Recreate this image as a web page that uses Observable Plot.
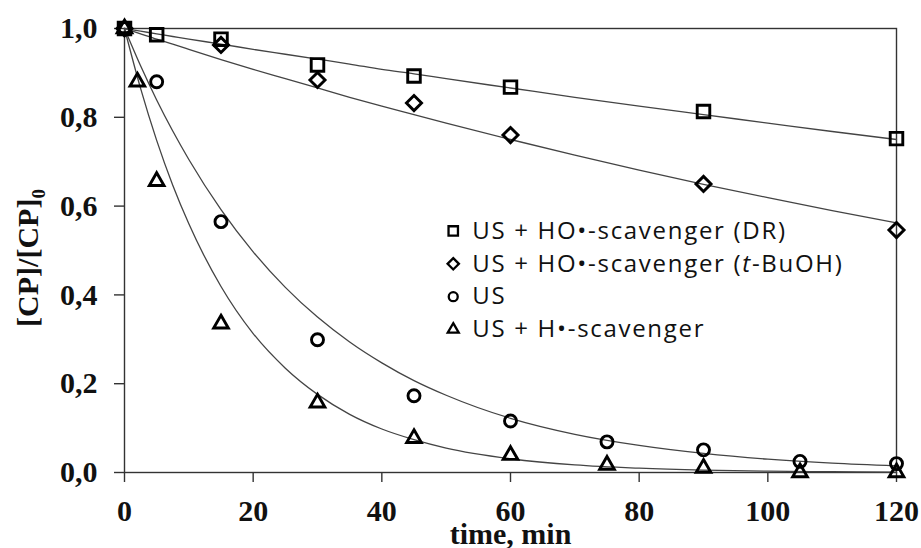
<!DOCTYPE html>
<html>
<head>
<meta charset="utf-8">
<script src="https://cdn.jsdelivr.net/npm/d3@7"></script>
<script src="https://cdn.jsdelivr.net/npm/@observablehq/plot@0.6"></script>
<style>
  html, body { margin: 0; padding: 0; background: #fff; }
  #chart { width: 921px; height: 548px; }
</style>
</head>
<body>
<div id="chart"></div>
<script>
// ---- Series names (legend labels) ----
const seriesNames = [
  "US + HO•-scavenger (DR)",
  "US + HO•-scavenger (t-BuOH)",
  "US",
  "US + H•-scavenger"
];
const seriesSymbols = ["square2", "diamond2", "circle", "triangle2"];

// ---- Measured points ----
const timeDR = [0, 5, 15, 30, 45, 60, 90, 120];
const valDR  = [1.0, 0.986, 0.976, 0.918, 0.893, 0.868, 0.813, 0.752];

const timeBuOH = [0, 15, 30, 45, 60, 90, 120];
const valBuOH  = [1.0, 0.963, 0.884, 0.832, 0.760, 0.650, 0.546];

const timeUS = [0, 5, 15, 30, 45, 60, 75, 90, 105, 120];
const valUS  = [1.0, 0.880, 0.565, 0.299, 0.173, 0.116, 0.069, 0.051, 0.025, 0.020];

const timeH = [0, 2, 5, 15, 30, 45, 60, 75, 90, 105, 120];
const valH  = [1.0, 0.880, 0.656, 0.335, 0.157, 0.077, 0.039, 0.017, 0.010, 0.0, 0.0];

// ---- Fitted curves ----
const timeFit = [0, 2.5, 5, 7.5, 10, 15, 20, 25, 30, 35, 40, 45, 50, 60, 70, 80, 90, 100, 110, 120];
const fitDR   = [1, 0.994, 0.988, 0.982, 0.976, 0.965, 0.953, 0.942, 0.931, 0.920, 0.908, 0.898, 0.887, 0.866, 0.845, 0.825, 0.806, 0.787, 0.768, 0.750];
const fitBuOH = [1, 0.988, 0.976, 0.965, 0.953, 0.930, 0.908, 0.887, 0.866, 0.845, 0.825, 0.806, 0.787, 0.750, 0.715, 0.681, 0.649, 0.619, 0.590, 0.562];
const fitUS   = [1, 0.916, 0.839, 0.769, 0.705, 0.592, 0.497, 0.417, 0.350, 0.294, 0.247, 0.207, 0.174, 0.122, 0.086, 0.061, 0.043, 0.030, 0.021, 0.015];
const fitH    = [1, 0.865, 0.748, 0.647, 0.560, 0.419, 0.313, 0.235, 0.176, 0.131, 0.098, 0.074, 0.055, 0.031, 0.017, 0.0097, 0.0054, 0.003, 0.0017, 0.001];

// ---- Axis ticks ----
const xTicks = [0, 20, 40, 60, 80, 100, 120];
const yTicks = [0, 0.2, 0.4, 0.6, 0.8, 1.0];
const xTitle = "time, min";
const yTitle = "[CP]/[CP]0";

// ---- Legend placement (data coordinates) ----
const legendT = 51.1;
const legendV = [0.544, 0.470, 0.396, 0.322];

// ---- Build tables ----
const pointSets = [[timeDR, valDR], [timeBuOH, valBuOH], [timeUS, valUS], [timeH, valH]];
const fitSets = [fitDR, fitBuOH, fitUS, fitH];
const pts = pointSets.map(([ts, vs], i) => ts.map((t, j) => ({t, v: vs[j], s: seriesNames[i]})));
const fits = fitSets.flatMap((vs, i) => timeFit.map((t, j) => ({t, v: vs[j], s: seriesNames[i]})));
const legendRows = seriesNames.map((s, i) => ({t: legendT, v: legendV[i], s, sym: seriesSymbols[i]}));

const serif = "'Liberation Serif', 'Times New Roman', serif";
const sans = "'Open Sans', Lato, sans-serif";
const dotR = [8.0, 6.8, 6.0, 7.0];

const commaFmt = d => d3.format(".1f")(d).replace(".", ",");

const plot = Plot.plot({
  width: 921,
  height: 548,
  marginLeft: 124,
  marginRight: 25,
  marginTop: 28,
  marginBottom: 76,
  x: {domain: [0, 120]},
  y: {domain: [0, 1]},
  style: {background: "#fff", color: "#222"},
  marks: [
    Plot.frame({stroke: "#333", strokeWidth: 1.4}),
    Plot.axisX({ticks: xTicks, tickSize: 10, tickPadding: 17, label: null, tickFormat: d3.format("d"),
      fontFamily: serif, fontSize: 30, fontWeight: "bold", stroke: "#333", strokeWidth: 1.4, fill: "#111"}),
    Plot.axisY({ticks: yTicks, tickSize: 10, tickPadding: 17, label: null, tickFormat: commaFmt,
      fontFamily: serif, fontSize: 30, fontWeight: "bold", stroke: "#333", strokeWidth: 1.4, fill: "#111"}),
    Plot.line(fits, {x: "t", y: "v", z: "s", curve: "monotone-x", stroke: "#444", strokeWidth: 1.3}),
    ...pts.map((rows, i) => Plot.dot(rows, {x: "t", y: "v", symbol: seriesSymbols[i], r: dotR[i],
      stroke: "#000", strokeWidth: 2.9, fill: "none"})),
    ...legendRows.map((row, i) => Plot.dot([row], {x: "t", y: "v", symbol: row.sym, r: dotR[i] * 0.75,
      stroke: "#000", strokeWidth: 2.3, fill: "none"})),
    Plot.text(legendRows, {x: "t", y: "v", text: "s", dx: 19, textAnchor: "start", lineAnchor: "middle",
      fontFamily: sans, fontSize: 24, fill: "#111"}),
    Plot.text([xTitle], {text: d => d, frameAnchor: "bottom", dy: 62, lineAnchor: "middle",
      fontFamily: serif, fontSize: 30, fontWeight: "bold", fill: "#111"}),
    Plot.text([yTitle], {text: d => d, frameAnchor: "left", rotate: -90, lineAnchor: "middle",
      fontFamily: serif, fontSize: 30, fontWeight: "bold", fill: "#111"})
  ]
});

document.getElementById("chart").appendChild(plot);

// Rich text details: italic "t", subscript "0", legend spacing
d3.select(plot).selectAll("text").each(function() {
  const txt = this.textContent;
  if (seriesNames.includes(txt)) {
    this.setAttribute("letter-spacing", "1.7");
  }
  if (txt === "US + HO•-scavenger (t-BuOH)") {
    this.innerHTML = 'US + HO•-scavenger (<tspan font-style="italic">t</tspan>-BuOH)';
  } else if (txt === yTitle) {
    this.innerHTML = '[CP]/[CP]<tspan dy="7" font-size="19">0</tspan>';
    this.setAttribute("text-anchor", "middle");
    this.setAttribute("transform", "translate(28,258) rotate(-90)");
    const g = this.parentNode;
    if (g && g.tagName.toLowerCase() === "g") g.removeAttribute("transform");
  }
});
</script>
</body>
</html>
